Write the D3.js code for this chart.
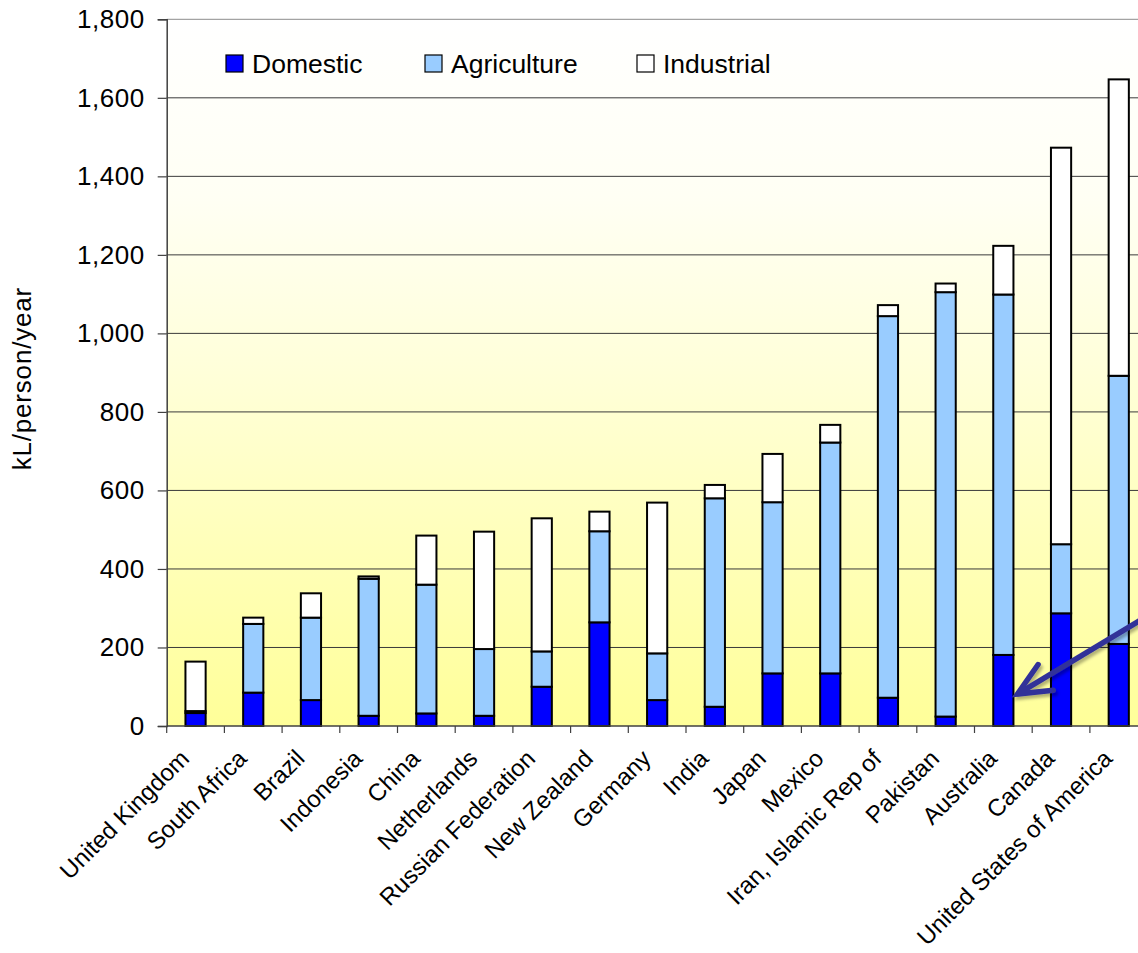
<!DOCTYPE html>
<html>
<head>
<meta charset="utf-8">
<script src="https://cdn.jsdelivr.net/npm/d3@7"></script>
<style>
  html, body { margin: 0; padding: 0; background: #ffffff; }
  svg { display: block; font-family: "Liberation Sans", Arial, Helvetica, sans-serif; }
</style>
</head>
<body>
<svg id="chart" width="1138" height="953"></svg>
<script>
// Water withdrawal per person, split by sector (kL/person/year)
const countries = [
  "United Kingdom", "South Africa", "Brazil", "Indonesia", "China", "Netherlands",
  "Russian Federation", "New Zealand", "Germany", "India", "Japan", "Mexico",
  "Iran, Islamic Rep of", "Pakistan", "Australia", "Canada", "United States of America"
];
const domestic    = [33, 85, 66, 26, 32, 26, 100, 264, 66, 49, 134, 134, 72, 24, 181, 287, 209];
const agriculture = [5, 175, 210, 349, 328, 170, 90, 232, 119, 531, 436, 588, 972, 1081, 918, 176, 683];
const industrial  = [126, 16, 62, 6, 125, 299, 339, 50, 384, 34, 123, 45, 28, 22, 124, 1010, 755];

const seriesNames  = ["Domestic", "Agriculture", "Industrial"];
const seriesColors = ["#0000ff", "#99ccff", "#ffffff"];
const yTickValues  = [0, 200, 400, 600, 800, 1000, 1200, 1400, 1600, 1800];
const yTitle = "kL/person/year";
const highlighted = "Australia";

const rows = countries.map((c, i) => ({
  country: c,
  Domestic: domestic[i],
  Agriculture: agriculture[i],
  Industrial: industrial[i]
}));

const svg = d3.select("#chart");
const plot = { left: 166.7, top: 19.3, bottom: 726, step: 57.7 };
plot.right = plot.left + plot.step * countries.length;

const x = d3.scaleBand()
  .domain(countries)
  .range([plot.left, plot.right])
  .paddingInner(0.65)
  .paddingOuter(0.325);

const y = d3.scaleLinear().domain([0, 1800]).range([plot.bottom, plot.top]);

const color = d3.scaleOrdinal().domain(seriesNames).range(seriesColors);

// Plot-area background: white fading into pale yellow
const defs = svg.append("defs");
const grad = defs.append("linearGradient")
  .attr("id", "plotFill").attr("x1", 0).attr("y1", 0).attr("x2", 0).attr("y2", 1);
[[0, "#ffffff"], [0.25, "#fffff4"], [0.5, "#ffffd9"], [0.75, "#ffffb9"], [1, "#ffff99"]]
  .forEach(([o, c]) => grad.append("stop").attr("offset", o).attr("stop-color", c));

const shadow = defs.append("filter").attr("id", "arrowShadow")
  .attr("x", "-20%").attr("y", "-20%").attr("width", "150%").attr("height", "150%");
shadow.append("feDropShadow")
  .attr("dx", 2).attr("dy", 3).attr("stdDeviation", 1.6)
  .attr("flood-color", "#000000").attr("flood-opacity", 0.3);

svg.append("rect")
  .attr("x", plot.left).attr("y", plot.top)
  .attr("width", plot.right - plot.left).attr("height", plot.bottom - plot.top)
  .attr("fill", "url(#plotFill)");

// Horizontal gridlines
svg.append("g").selectAll("line")
  .data(yTickValues.filter(v => v > 0))
  .join("line")
  .attr("x1", plot.left).attr("x2", plot.right)
  .attr("y1", d => y(d)).attr("y2", d => y(d))
  .attr("stroke", d => d === 1800 ? "#8c8c8c" : "#3a3a3a")
  .attr("stroke-width", 1);

// Stacked bars
const stacked = d3.stack().keys(seriesNames)(rows);
svg.append("g").selectAll("g")
  .data(stacked)
  .join("g")
  .attr("fill", d => color(d.key))
  .selectAll("rect")
  .data(d => d)
  .join("rect")
  .attr("x", d => x(d.data.country))
  .attr("width", x.bandwidth())
  .attr("y", d => y(d[1]))
  .attr("height", d => y(d[0]) - y(d[1]))
  .attr("stroke", "#000000")
  .attr("stroke-width", 2);

// Y axis
const yAxis = svg.append("g")
  .attr("transform", `translate(${plot.left},0)`)
  .call(d3.axisLeft(y).tickValues(yTickValues).tickFormat(d3.format(",")).tickSize(9).tickPadding(13));
yAxis.select(".domain").attr("stroke", "#404040").attr("stroke-width", 1.5);
yAxis.selectAll(".tick line").attr("stroke", "#404040").attr("stroke-width", 1.2);
yAxis.selectAll(".tick text")
  .attr("font-family", "'Liberation Sans', Arial, sans-serif")
  .attr("font-size", 26).attr("letter-spacing", 0.5).attr("fill", "#000000");

// X axis line and boundary ticks
const xAxis = svg.append("g");
xAxis.append("line")
  .attr("x1", plot.left).attr("x2", plot.right)
  .attr("y1", plot.bottom).attr("y2", plot.bottom)
  .attr("stroke", "#404040").attr("stroke-width", 1.5);
const boundaries = countries.map(c => x(c) - x.step() * x.paddingInner() / 2);
xAxis.selectAll("line.bound")
  .data(boundaries)
  .join("line")
  .attr("class", "bound")
  .attr("x1", d => d).attr("x2", d => d)
  .attr("y1", plot.bottom).attr("y2", plot.bottom + 7)
  .attr("stroke", "#404040").attr("stroke-width", 1.2);

// Category labels, slanted at 45 degrees
xAxis.selectAll("text")
  .data(countries)
  .join("text")
  .attr("transform", d => `translate(${x(d) + x.bandwidth() / 2 - 5},760) rotate(-45)`)
  .attr("text-anchor", "end")
  .attr("font-size", 24)
  .attr("fill", "#000000")
  .text(d => d);

// Y axis title
svg.append("text")
  .attr("transform", `translate(31,${(plot.top + plot.bottom) / 2 + 6}) rotate(-90)`)
  .attr("text-anchor", "middle")
  .attr("font-size", 26)
  .attr("letter-spacing", 0.8)
  .attr("fill", "#000000")
  .text(yTitle);

// Legend
const legendX = [226, 425, 637];
const legend = svg.append("g").selectAll("g")
  .data(seriesNames)
  .join("g")
  .attr("transform", (d, i) => `translate(${legendX[i]},55)`);
legend.append("rect")
  .attr("width", 17).attr("height", 17)
  .attr("fill", d => color(d))
  .attr("stroke", "#000000").attr("stroke-width", 1.2);
legend.append("text")
  .attr("x", 26).attr("y", 18)
  .attr("font-size", 26.5)
  .attr("fill", "#000000")
  .text(d => d);

// Call-out arrow pointing at the highlighted country's domestic use
const hi = countries.indexOf(highlighted);
const tip = [x(highlighted) + x.bandwidth() + 4, y(domestic[hi] * 0.45)];
const ang = -31 * Math.PI / 180;
const dir = [Math.cos(ang), Math.sin(ang)];
const tail = [tip[0] + dir[0] * 220, tip[1] + dir[1] * 220];
const wing = (deg) => {
  const a = ang + deg * Math.PI / 180;
  return [tip[0] + Math.cos(a) * 36, tip[1] + Math.sin(a) * 36];
};
const w1 = wing(-24), w2 = wing(25);
const arrow = svg.append("g").attr("filter", "url(#arrowShadow)");
arrow.append("path")
  .attr("d", d3.line()([tail, tip]))
  .attr("stroke", "#333399").attr("stroke-width", 5.5).attr("fill", "none");
arrow.append("path")
  .attr("d", d3.line()([w1, tip, w2]))
  .attr("stroke", "#333399").attr("stroke-width", 5.5).attr("fill", "none")
  .attr("stroke-linecap", "round").attr("stroke-linejoin", "miter");
</script>
</body>
</html>
